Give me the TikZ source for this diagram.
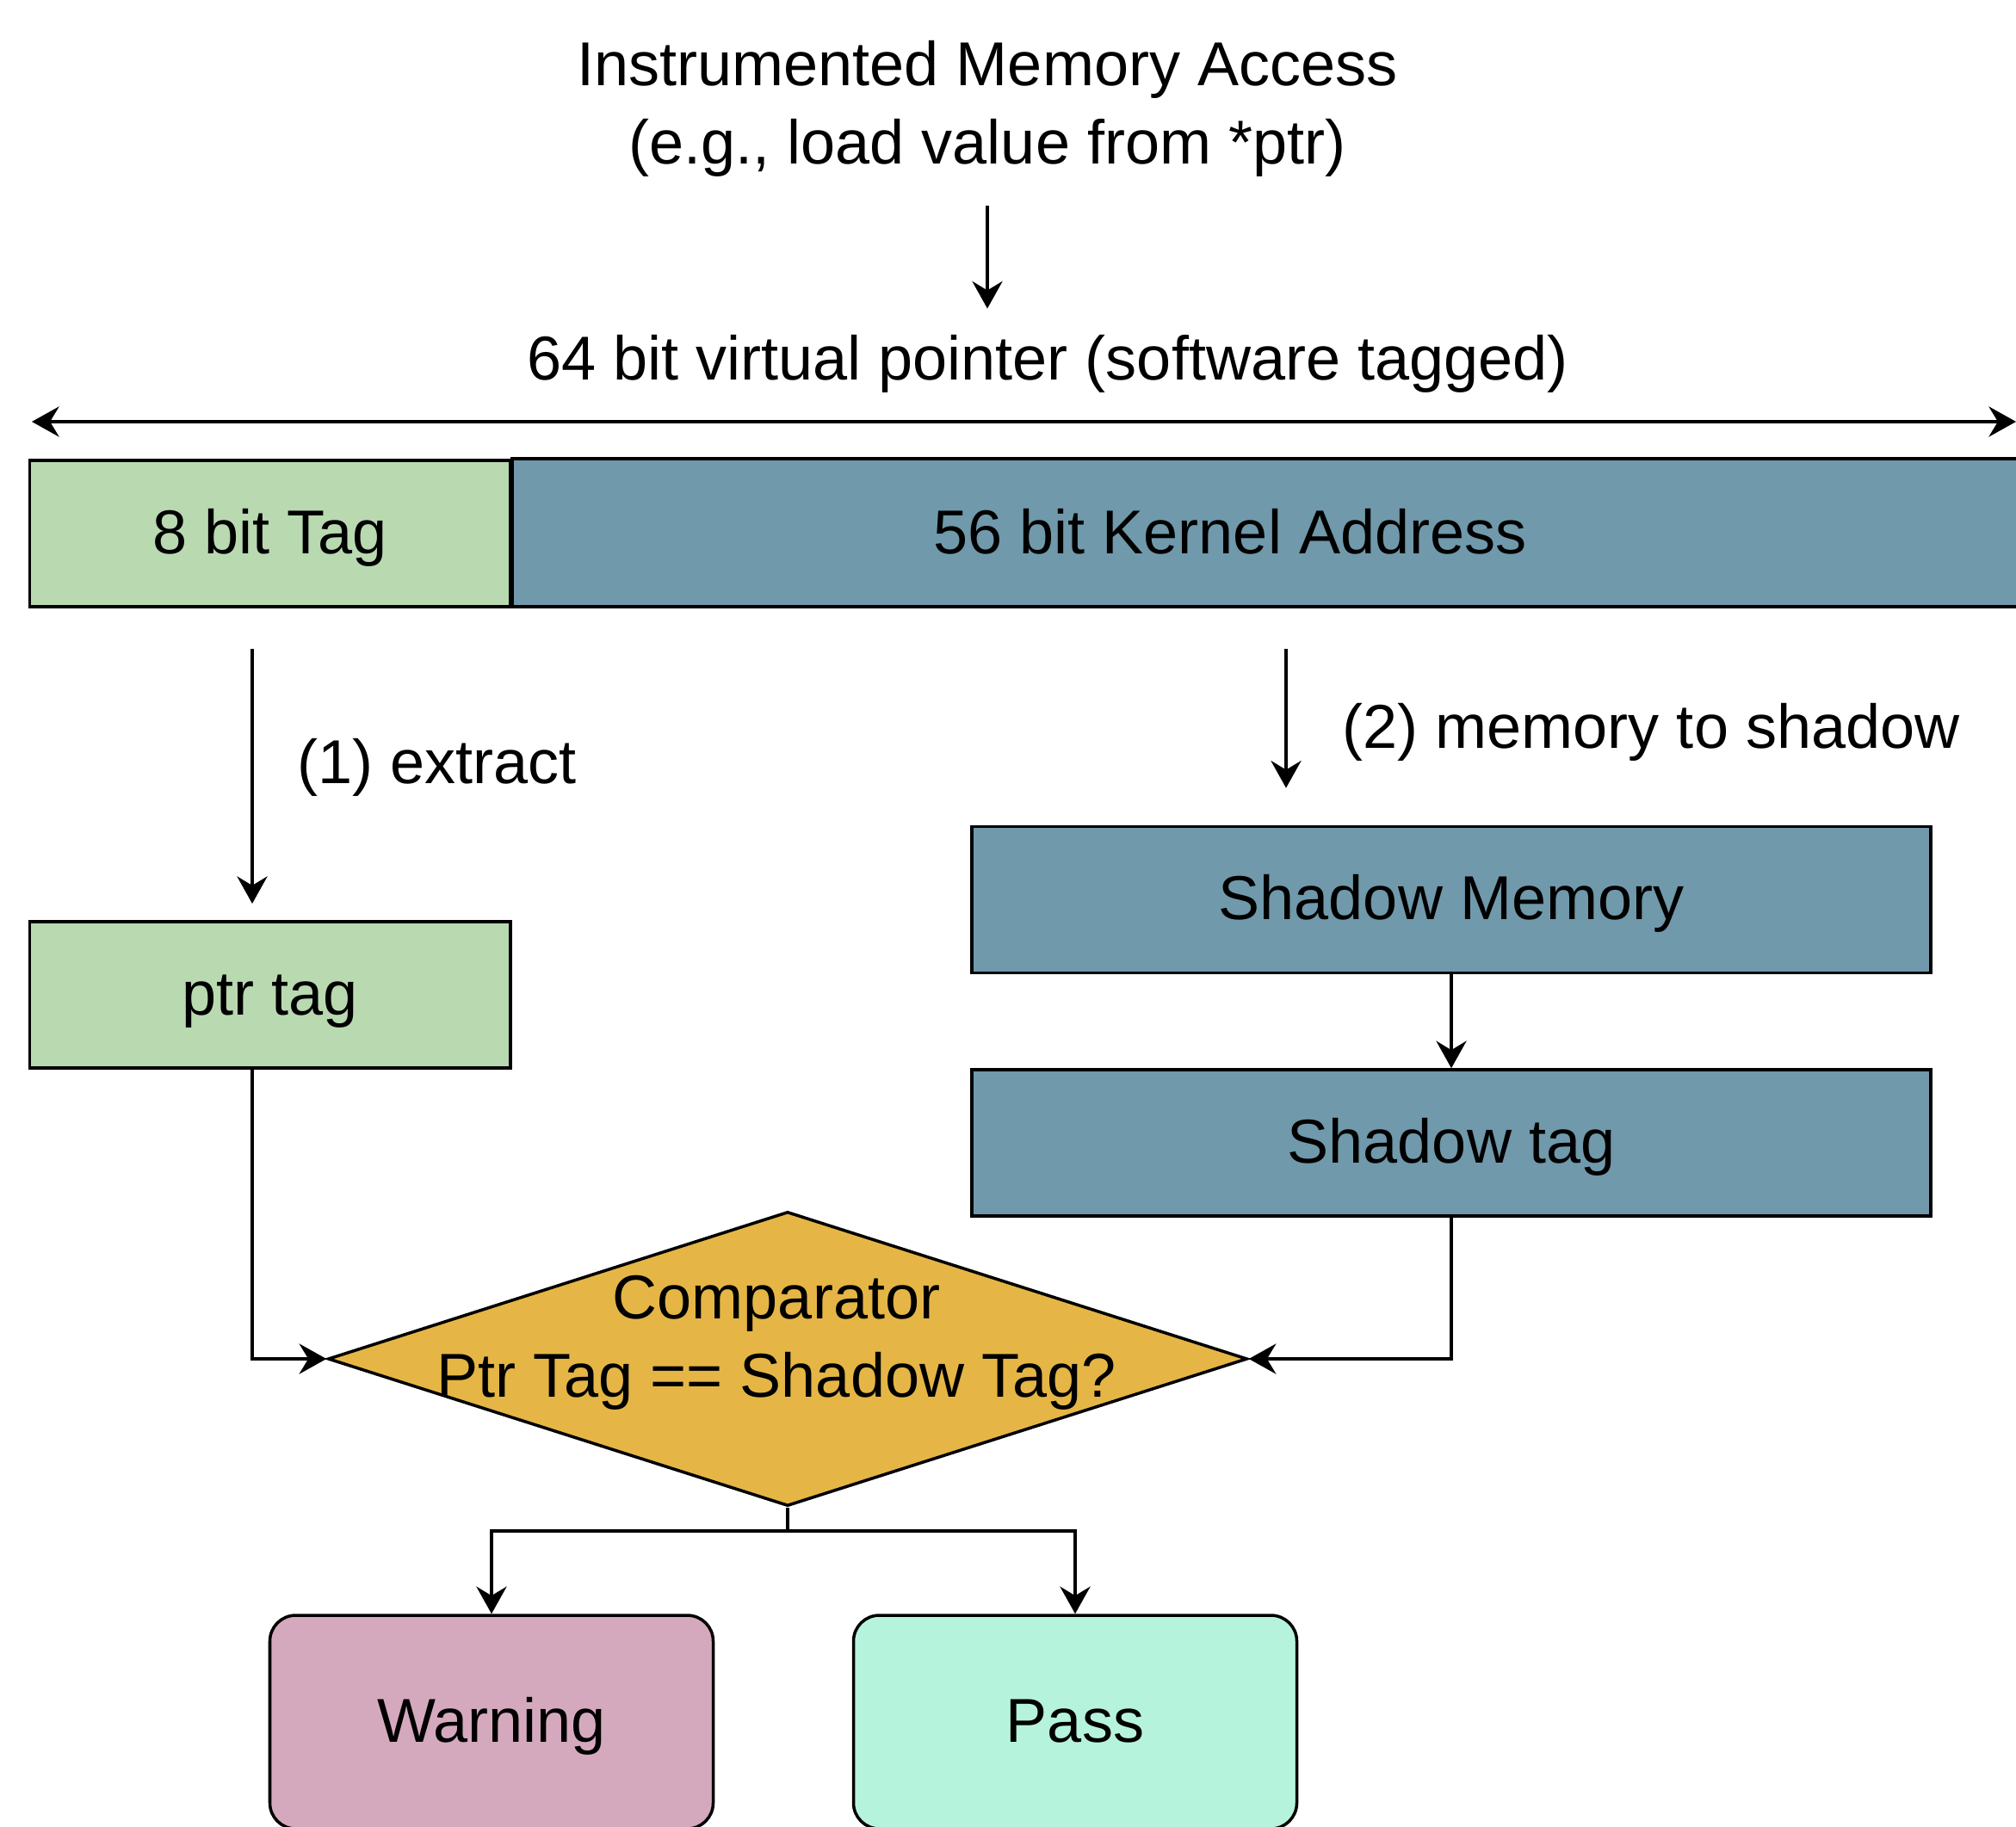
\documentclass[tikz,border=0pt]{standalone}
\usepackage{fontspec}
\setmainfont{Liberation Sans}
\usetikzlibrary{arrows.meta, shapes.geometric, positioning}

\definecolor{tagGreen}{RGB}{185,217,177}
\definecolor{addrBlue}{RGB}{112,153,171}
\definecolor{cmpGold}{RGB}{229,182,69}
\definecolor{warnPink}{RGB}{213,169,189}
\definecolor{passMint}{RGB}{182,243,220}

\tikzset{
    boxtext/.style={text height=17.6pt, text depth=4.3pt},
    field/.style={draw, line width=1pt, inner sep=0pt, minimum height=1.70cm, boxtext},
    decision/.style={diamond, draw, line width=1pt, fill=cmpGold, inner sep=0pt,
        minimum width=10.68cm, minimum height=3.42cm},
    outcome/.style={draw, line width=1pt, rounded corners=0.3cm, inner sep=0pt,
        minimum width=5.15cm, minimum height=2.48cm, boxtext},
    steplabel/.style={anchor=west, inner sep=0pt}
}

\begin{document}
\begin{tikzpicture}[font=\fontsize{20.5}{26}\selectfont, line width=1pt,
    >={Stealth[length=9pt, width=10pt, inset=3pt]}]
        % Canvas
        \useasboundingbox (0,0) rectangle (23.42,-21.22);
        \clip (0,0) rectangle (23.42,-21.22);
        % Header
        \node[align=center] (access) at (11.47,-1.262) {Instrumented Memory Access\\(e.g., load value from *ptr)};
        \node (ptrwidth) at (12.17,-4.227) {64 bit virtual pointer (software tagged)};
        \coordinate (accfrom) at (11.47,-2.39);
        \coordinate (accto) at (11.47,-3.585);
        \draw[->] (accfrom) -- (accto);
        % Pointer width
        \coordinate (widthL) at (0.37,-4.90);
        \coordinate (widthR) at (23.42,-4.90);
        \draw[<->] (widthL) -- (widthR);
        % Pointer fields
        \node[field, fill=tagGreen, minimum width=5.586cm] (tagfield) at (3.137,-6.20) {8 bit Tag};
        \draw[fill=addrBlue] (tagfield.north east) rectangle (23.8,-7.05);
        \node[boxtext] (addrfield) at (14.29,-6.20) {56 bit Kernel Address};
        % (1) extract
        \coordinate (extfrom) at (2.93,-7.54);
        \coordinate (extto) at (2.93,-10.50);
        \draw[->] (extfrom) -- (extto);
        \node[steplabel] (extlabel) at (3.435,-8.92) {(1) extract};
        \node[field, fill=tagGreen, minimum width=5.586cm] (ptrtag) at (3.137,-11.56) {ptr tag};
        % (2) memory to shadow
        \coordinate (shfrom) at (14.94,-7.54);
        \coordinate (shto) at (14.94,-9.156);
        \draw[->] (shfrom) -- (shto);
        \node[steplabel] (shlabel) at (15.58,-8.51) {(2) memory to shadow};
        \node[field, fill=addrBlue, minimum width=11.14cm] (shadowmem) at (16.86,-10.455) {Shadow Memory};
        \node[field, fill=addrBlue, minimum width=11.14cm] (shadowtag) at (16.86,-13.28) {Shadow tag};
        \draw[->] (shadowmem) -- (shadowtag);
        % Comparator
        \node[decision] (cmp) at (9.15,-15.79) {};
        \node[align=center] (cmptext) at (9.02,-15.60) {Comparator\\Ptr Tag == Shadow Tag?};
        \draw[->] ([xshift=-2.07mm]ptrtag.south) |- (cmp.west);
        \draw[->] (shadowtag.south) |- (cmp.east);
        % Outcomes
        \node[outcome, fill=warnPink] (warn) at (5.71,-20.01) {Warning};
        \node[outcome, fill=passMint] (pass) at (12.49,-20.01) {Pass};
        \coordinate (split) at ([yshift=-2.7mm]cmp.south);
        \draw (cmp.south) -- (split);
        \draw[->] (split) -| (warn.north);
        \draw[->] (split) -| (pass.north);
    \end{tikzpicture}
\end{document}
